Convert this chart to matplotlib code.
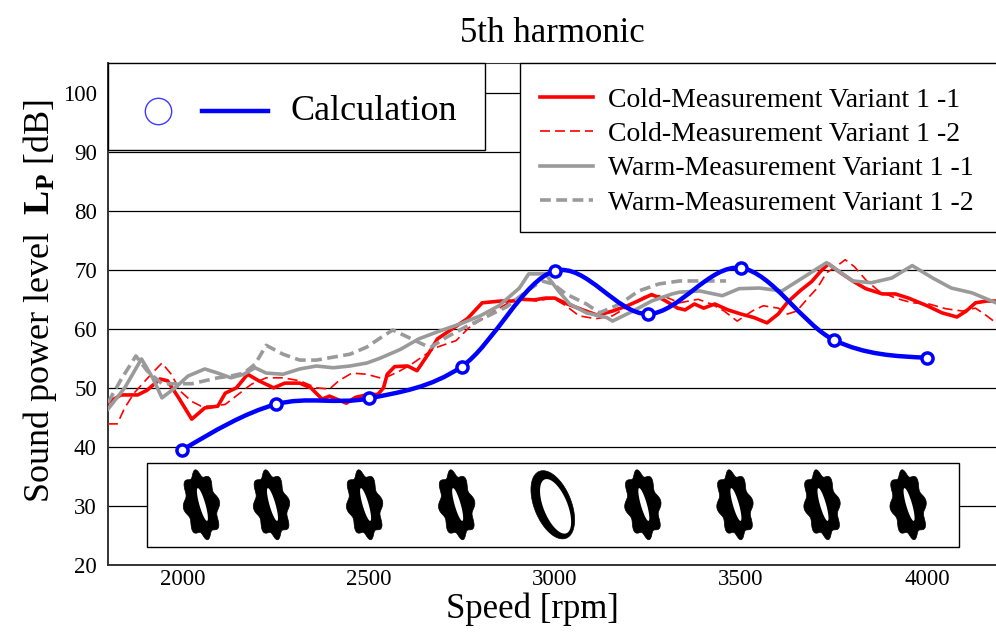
import numpy as np
import matplotlib
matplotlib.use("Agg")
import matplotlib.pyplot as plt
import matplotlib.transforms as mtransforms
from matplotlib.path import Path
from matplotlib.patches import PathPatch, Polygon, Rectangle

plt.rcParams["font.family"] = ["Liberation Serif", "DejaVu Serif"]
plt.rcParams["mathtext.fontset"] = "custom"
plt.rcParams["mathtext.rm"] = "Liberation Serif"
plt.rcParams["mathtext.bf"] = "Liberation Serif:bold"

# calculation (blue, circles)
calc_rpm = [2000, 2250, 2500, 2750, 3000, 3250, 3500, 3750, 4000]
calc_db = [39.5, 47.2, 48.2, 53.6, 69.8, 62.5, 70.3, 58.1, 55.1]

# Cold-Measurement Variant 1 -1 (red solid)
cold1_rpm = [1800, 1835, 1880, 1905, 1940, 1960, 1990, 2025, 2060, 2095, 2115, 2145,
             2175, 2205, 2245, 2275, 2315, 2345, 2375, 2395, 2440, 2465, 2495, 2525,
             2540, 2550, 2570, 2605, 2630, 2660, 2685, 2725, 2765, 2805, 2855, 2885,
             2910, 2945, 2975, 3000, 3030, 3075, 3115, 3155, 3195, 3230, 3260, 3290,
             3330, 3350, 3375, 3400, 3430, 3465, 3500, 3535, 3570, 3600, 3625, 3660,
             3690, 3715, 3735, 3765, 3800, 3835, 3880, 3915, 3950, 4000, 4040, 4080,
             4105, 4130, 4160, 4185]
cold1_db = [47.5, 48.8, 48.8, 49.6, 51.5, 51.2, 48.3, 44.7, 46.6, 46.9, 49.1, 50.0,
            52.3, 51.2, 50.0, 50.8, 50.8, 50.0, 48.1, 48.6, 47.4, 48.4, 48.8, 48.9,
            50.0, 52.3, 53.6, 53.7, 52.9, 55.7, 58.3, 60.0, 61.7, 64.4, 64.7, 64.7,
            65.0, 64.9, 65.2, 65.2, 64.3, 63.2, 62.3, 63.0, 63.9, 64.9, 65.8, 65.0,
            63.5, 63.2, 64.2, 63.5, 64.2, 63.2, 62.5, 61.9, 61.0, 62.5, 64.5, 66.5,
            68.0, 69.8, 71.0, 69.6, 68.1, 66.8, 65.9, 65.9, 65.2, 63.9, 62.7, 62.0,
            63.0, 64.4, 64.7, 64.7]

# Cold-Measurement Variant 1 -2 (red dashed)
cold2_rpm = [1800, 1825, 1845, 1870, 1900, 1925, 1945, 1970, 1995, 2025, 2050, 2085,
             2115, 2150, 2185, 2225, 2270, 2315, 2360, 2395, 2420, 2455, 2495, 2530,
             2555, 2585, 2615, 2645, 2680, 2735, 2770, 2825, 2870, 2915, 2950, 2995,
             3030, 3065, 3110, 3155, 3200, 3245, 3290, 3335, 3385, 3420, 3455, 3490,
             3530, 3560, 3600, 3625, 3650, 3680, 3705, 3730, 3755, 3780, 3805, 3835,
             3870, 3915, 3960, 4005, 4050, 4095, 4130, 4160, 4185]
cold2_db = [43.9, 43.9, 46.6, 49.1, 51.2, 52.9, 54.2, 52.3, 49.4, 47.7, 46.9, 46.9,
            47.2, 48.9, 50.6, 51.7, 51.7, 51.2, 50.0, 49.8, 51.2, 52.5, 52.3, 51.7,
            52.0, 52.9, 54.0, 55.3, 56.8, 58.0, 60.2, 62.5, 64.2, 65.2, 64.7, 65.2,
            63.9, 62.2, 61.7, 62.2, 63.9, 65.6, 65.6, 64.4, 65.0, 64.2, 63.0, 61.3,
            63.0, 63.9, 63.5, 62.5, 63.0, 65.2, 66.9, 69.5, 70.5, 71.7, 70.5, 68.3,
            66.4, 65.2, 64.4, 64.2, 63.4, 63.0, 63.5, 62.2, 61.0]

# Warm-Measurement Variant 1 -1 (grey solid)
warm1_rpm = [1800, 1845, 1890, 1920, 1945, 1980, 2015, 2060, 2095, 2130, 2165, 2195,
             2225, 2270, 2315, 2360, 2405, 2450, 2495, 2530, 2585, 2635, 2690, 2745,
             2800, 2850, 2905, 2930, 2975, 3010, 3040, 3085, 3140, 3155, 3210, 3260,
             3315, 3335, 3390, 3450, 3495, 3550, 3610, 3665, 3730, 3800, 3850, 3905,
             3960, 4015, 4065, 4120, 4185]
warm1_db = [46.4, 50.0, 54.9, 51.7, 48.3, 50.0, 52.0, 53.2, 52.5, 51.7, 52.3, 53.4,
            52.5, 52.3, 53.2, 53.7, 53.4, 53.7, 54.2, 55.0, 56.5, 58.3, 59.6, 60.8,
            62.2, 63.9, 66.9, 69.3, 69.3, 66.4, 64.2, 62.7, 61.9, 61.3, 63.0, 64.7,
            65.9, 66.2, 66.4, 65.6, 66.8, 66.9, 66.4, 68.6, 71.2, 68.1, 67.8, 68.6,
            70.7, 68.6, 66.9, 66.1, 64.4]

# Warm-Measurement Variant 1 -2 (grey dashed)
warm2_rpm = [1800, 1835, 1875, 1905, 1945, 1985, 2025, 2060, 2095, 2130, 2165, 2195,
             2225, 2270, 2315, 2360, 2405, 2450, 2495, 2535, 2565, 2615, 2665, 2710,
             2760, 2815, 2870, 2925, 2965, 2995, 3030, 3085, 3120, 3175, 3225, 3280,
             3335, 3390, 3460]
warm2_db = [47.5, 51.4, 55.4, 52.9, 50.7, 50.7, 50.7, 51.2, 51.7, 52.0, 52.5, 54.0,
            57.2, 55.7, 54.7, 54.7, 55.2, 55.7, 56.9, 58.6, 59.8, 58.3, 56.8, 58.6,
            60.3, 62.0, 63.7, 66.4, 68.1, 67.6, 65.9, 64.2, 62.7, 64.2, 66.4, 67.6,
            68.1, 68.1, 68.1]

labels = ["Cold-Measurement Variant 1 -1", "Cold-Measurement Variant 1 -2",
          "Warm-Measurement Variant 1 -1", "Warm-Measurement Variant 1 -2"]

RED = "#ff0000"
GREY = "#9a9a9a"
BLUE = "#0000ff"

# small sideways nudges (px) of the orbit pictures in the inset
orbit_shift_px = [19, -4, -4, -5, -2, -5, -6, -12, -19]


def smooth_path(x, y):
    # cubic hermite (bezier) through the points, natural-ish ends
    x = np.asarray(x, float)
    y = np.asarray(y, float)
    n = len(x)
    m = np.zeros(n)
    for i in range(1, n - 1):
        m[i] = (y[i + 1] - y[i - 1]) / (x[i + 1] - x[i - 1])
    m[0] = (3 * (y[1] - y[0]) / (x[1] - x[0]) - m[1]) / 2
    m[-1] = (3 * (y[-1] - y[-2]) / (x[-1] - x[-2]) - m[-2]) / 2
    verts = [(x[0], y[0])]
    codes = [Path.MOVETO]
    for i in range(n - 1):
        h = x[i + 1] - x[i]
        verts += [(x[i] + h / 3, y[i] + m[i] * h / 3),
                  (x[i + 1] - h / 3, y[i + 1] - m[i + 1] * h / 3),
                  (x[i + 1], y[i + 1])]
        codes += [Path.CURVE4] * 3
    return Path(verts, codes)


def rot(px, py, ang):
    a = np.deg2rad(ang)
    return np.column_stack([px * np.cos(a) - py * np.sin(a),
                            px * np.sin(a) + py * np.cos(a)])


fig = plt.figure(figsize=(9.96, 6.33), dpi=100)
ax = fig.add_axes([0.1084, 0.1074, 0.8916, 0.7930])
ax.set_xlim(1800, 4185)
ax.set_ylim(20, 105)
ax.set_xticks(range(2000, 4001, 500))
ax.set_yticks(range(20, 101, 10))
ax.tick_params(length=0, labelsize=16.5, pad=8)
ax.tick_params(axis="x", pad=3)
ax.grid(axis="y", color="black", lw=0.9)
ax.set_axisbelow(True)
ax.spines["right"].set_visible(False)
for s in ["left", "bottom", "top"]:
    ax.spines[s].set_color("#333333")
ax.spines["left"].set_linewidth(1.4)
ax.spines["bottom"].set_linewidth(1.4)

# measurements
h1, = ax.plot(cold1_rpm, cold1_db, color=RED, lw=2.6, zorder=3)
h2, = ax.plot(cold2_rpm, cold2_db, color=RED, lw=1.2, ls=(0, (6, 3)), zorder=3)
h3, = ax.plot(warm1_rpm, warm1_db, color=GREY, lw=2.6, zorder=3)
h4, = ax.plot(warm2_rpm, warm2_db, color=GREY, lw=2.6, ls=(0, (3, 1.5)), zorder=3)

# calculation
ax.add_patch(PathPatch(smooth_path(calc_rpm, calc_db), fc="none", ec=BLUE,
                       lw=3.2, zorder=4))
ax.plot(calc_rpm, calc_db, "o", mfc="white", mec=BLUE, mew=2.5, ms=8, zorder=5)

# inset with orbit pictures
ax.add_patch(Rectangle((1906, 23.05), 2180, 14.22, fc="white", ec="black",
                       lw=1.0, zorder=3.5))
t = np.linspace(0, 2 * np.pi, 240, endpoint=False)
for i, r in enumerate(calc_rpm):
    tr = (mtransforms.Affine2D().translate(orbit_shift_px[i], 0).scale(1 / 100.)
          + fig.dpi_scale_trans
          + mtransforms.ScaledTranslation(r, 30.2, ax.transData))
    if i == 4:
        outer = rot(18.5 * np.cos(t), 36 * np.sin(t), 22)
        inner = rot(12 * np.cos(t) + 2, 29 * np.sin(t) - 2.5, 22)
    else:
        outer = rot((16.5 + 1.8 * np.cos(8 * t)) * np.cos(t),
                    (32.5 + 3 * np.cos(8 * t)) * np.sin(t), 10)
        inner = rot(3 * np.cos(t) + 1, 17 * np.sin(t), 16)
    ax.add_patch(Polygon(outer, closed=True, fc="black", ec="black", lw=0.5,
                         transform=tr, zorder=4))
    ax.add_patch(Polygon(inner, closed=True, fc="white", ec="none",
                         transform=tr, zorder=4.1))

# calculation legend box
ax.add_patch(Rectangle((0, 0.8267), 0.4245, 0.1733, transform=ax.transAxes,
                       fc="white", ec="black", lw=1.0, zorder=6, clip_on=False))
ax.plot([0.0563], [0.9044], "o", mfc="none", mec="#3b3bff", mew=1.0, ms=19,
        transform=ax.transAxes, zorder=7, clip_on=False)
ax.plot([0.1059, 0.1802], [0.9044, 0.9044], color=BLUE, lw=3.2,
        transform=ax.transAxes, zorder=7)
ax.text(0.205, 0.9044, "Calculation", fontsize=26, va="center",
        transform=ax.transAxes, zorder=7)

# measurement legend box (runs past the right edge)
ax.add_patch(Rectangle((0.464, 0.663), 0.6, 0.337, transform=ax.transAxes,
                       fc="white", ec="black", lw=1.0, zorder=6, clip_on=False))
leg = ax.legend([h1, h2, h3, h4], labels, loc="upper left",
                bbox_to_anchor=(0.4865, 0.952), fontsize=20, frameon=False,
                handlelength=1.9, handletextpad=0.55, labelspacing=0.32,
                borderpad=0, borderaxespad=0)
leg.set_zorder(7)

ax.set_title("5th harmonic", fontsize=25, pad=15)
ax.set_xlabel("Speed [rpm]", fontsize=25, va="baseline")
ax.xaxis.set_label_coords(0.4775, -0.106)
ax.set_ylabel(r"Sound power level  $\mathbf{L_P}$ [dB]", fontsize=26, va="center")
ax.yaxis.set_label_coords(-0.0766, 0.526)

fig.savefig("out.png", dpi=100)
